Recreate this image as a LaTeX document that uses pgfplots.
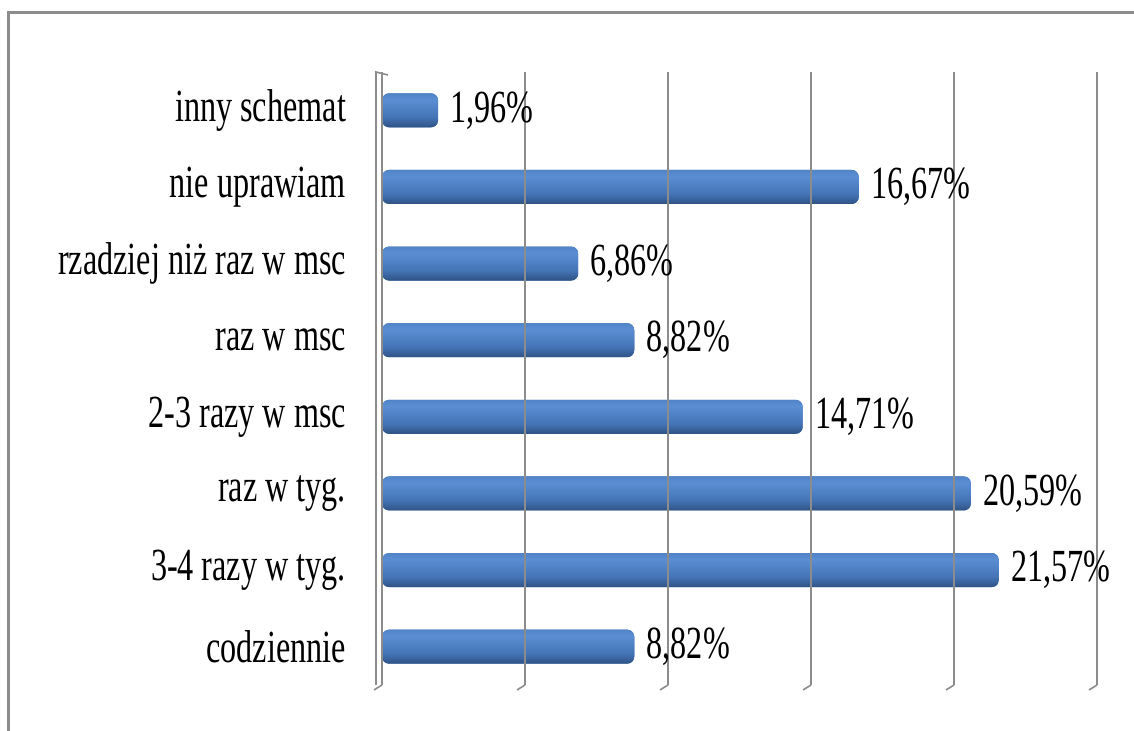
\documentclass[border=0pt]{standalone}
\usepackage{fontspec}
\setmainfont[FakeStretch=0.70]{Liberation Serif}
\usepackage{pgfplots}
\pgfplotsset{compat=1.18}
\definecolor{gridgray}{HTML}{8C8C8C}
\definecolor{barlight}{HTML}{5A8ED3}
\definecolor{barmid}{HTML}{4474B6}
\definecolor{bardark}{HTML}{1C3558}
\pgfdeclareverticalshading{barshade}{100bp}{color(0bp)=(bardark); color(12bp)=(bardark); color(40bp)=(barmid); color(66bp)=(barlight); color(88bp)=(barmid); color(100bp)=(barmid)}
\begin{document}
\begin{tikzpicture}
\useasboundingbox (0,0) rectangle (567pt,-365.5pt);
\draw[gridgray, line width=1.5pt] (4pt,-365.5pt) -- (4pt,-6.5pt) -- (567pt,-6.5pt);
\begin{axis}[
  scale only axis, width=357.5pt, height=306.5pt,
  at={(191pt,-36pt)}, anchor=north west,
  xbar, bar shift=0pt, xmin=0, xmax=25, ymin=-0.5, ymax=7.5,
  xtick={0,5,...,25}, xticklabels={},
  xmajorgrids, grid style={gridgray, line width=0.8pt},
  ytick={0,...,7},
  yticklabels={codziennie,3-4 razy w tyg.,raz w tyg.,2-3 razy w msc,raz w msc,rzadziej niż raz w msc,nie uprawiam,inny schemat},
  major tick length=0pt, axis line style={draw=none},
  yticklabel style={font=\fontsize{23}{26}\selectfont, xshift=-14.5pt},
  bar width=17pt,
  axis on top,
  nodes near coords, point meta=explicit symbolic,
  nodes near coords style={font=\fontsize{23}{26}\selectfont, anchor=west, inner sep=0pt, xshift=6pt, text=black},
  every axis plot post/.append style={draw=none, fill=barmid, shading=barshade, rounded corners=3.5pt},
  clip=false]
\addplot coordinates {(8.82,0) [8,82\%]};
\addplot coordinates {(21.57,1) [21,57\%]};
\addplot coordinates {(20.59,2) [20,59\%]};
\addplot coordinates {(14.71,3) [14,71\%]};
\addplot coordinates {(8.82,4) [8,82\%]};
\addplot coordinates {(6.86,5) [6,86\%]};
\addplot coordinates {(16.67,6) [16,67\%]};
\addplot coordinates {(1.96,7) [1,96\%]};
\foreach \g in {0,5,...,25} {
  \edef\temp{\noexpand\draw[gridgray, line width=0.8pt] (axis cs:\g,-0.5) -- ++(-4pt,-2.5pt);}
  \temp
}
\draw[gridgray, line width=0.8pt] ([xshift=-3pt]axis cs:0,-0.5) -- ([xshift=-3pt]axis cs:0,7.5) -- ([xshift=3pt,yshift=-1.5pt]axis cs:0,7.5);
\end{axis}
\end{tikzpicture}
\end{document}
